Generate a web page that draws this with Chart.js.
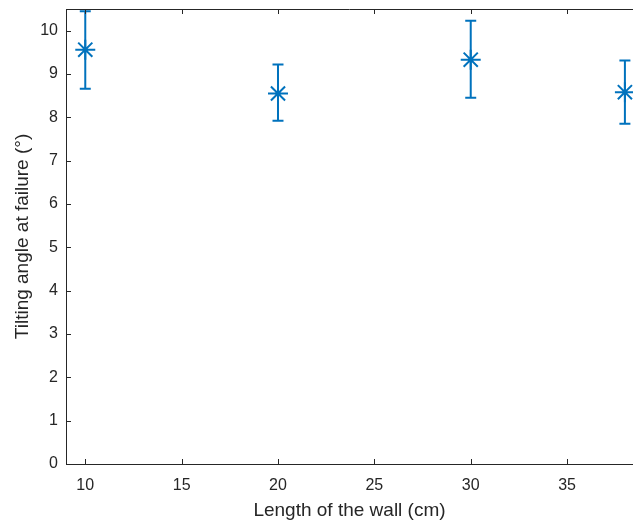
<!DOCTYPE html>
<html>
<head>
<meta charset="utf-8">
<script src="https://cdn.jsdelivr.net/npm/chart.js@4"></script>
<style>
  html, body { margin: 0; padding: 0; background: #fff; overflow: hidden; }
  #wrap { width: 633px; height: 522px; position: relative; }
</style>
</head>
<body>
<div id="wrap"><canvas id="c" width="633" height="522"></canvas></div>
<script>
// ---- data ----
const wallLengths = [10, 20, 30, 38];            // cm
const meanAngles  = [9.56, 8.55, 9.33, 8.58];    // degrees
const upperAngles = [10.45, 9.22, 10.23, 9.31];  // error bar tops
const lowerAngles = [8.66, 7.92, 8.45, 7.85];    // error bar bottoms
const xTickValues = [10, 15, 20, 25, 30, 35];
const yTickValues = [0, 1, 2, 3, 4, 5, 6, 7, 8, 9, 10];
const xTitle = 'Length of the wall (cm)';
const yTitle = 'Tilting angle at failure (°)';

const BLUE = '#0072BD';
const AXIS = '#262626';
const FONT = '"Liberation Sans", Arial, Helvetica, sans-serif';

const points = wallLengths.map((x, i) => ({ x: x, y: meanAngles[i] }));

const errorBarPlugin = {
  id: 'errorBars',
  beforeDatasetsDraw(chart) {
    const ctx = chart.ctx;
    const xs = chart.scales.x, ys = chart.scales.y;
    ctx.save();
    ctx.strokeStyle = BLUE;
    ctx.lineWidth = 2;
    ctx.lineCap = 'butt';
    const cap = 5.5;
    for (let i = 0; i < wallLengths.length; i++) {
      const px = xs.getPixelForValue(wallLengths[i]);
      const pt = ys.getPixelForValue(upperAngles[i]);
      const pb = ys.getPixelForValue(lowerAngles[i]);
      ctx.beginPath();
      ctx.moveTo(px, pt); ctx.lineTo(px, pb);
      ctx.moveTo(px - cap, pt); ctx.lineTo(px + cap, pt);
      ctx.moveTo(px - cap, pb); ctx.lineTo(px + cap, pb);
      ctx.stroke();
    }
    ctx.restore();
  }
};

const axesBoxPlugin = {
  id: 'axesBox',
  afterDraw(chart) {
    const ctx = chart.ctx;
    const a = chart.chartArea;
    const xs = chart.scales.x, ys = chart.scales.y;
    ctx.save();
    ctx.strokeStyle = AXIS;
    ctx.lineWidth = 1;
    const tl = 5;
    ctx.beginPath();
    // top border
    ctx.moveTo(a.left, a.top + 0.5); ctx.lineTo(a.right, a.top + 0.5);
    // inward x ticks (bottom & top)
    xTickValues.forEach(v => {
      const px = Math.round(xs.getPixelForValue(v)) + 0.5;
      ctx.moveTo(px, a.bottom); ctx.lineTo(px, a.bottom - tl);
      ctx.moveTo(px, a.top); ctx.lineTo(px, a.top + tl);
    });
    // inward y ticks
    yTickValues.forEach(v => {
      const py = Math.round(ys.getPixelForValue(v)) + 0.5;
      ctx.moveTo(a.left, py); ctx.lineTo(a.left + tl, py);
    });
    ctx.stroke();
    ctx.restore();
  }
};

new Chart(document.getElementById('c'), {
  type: 'scatter',
  data: {
    datasets: [{
      data: points,
      pointStyle: 'star',
      pointRadius: 10,
      pointHoverRadius: 10,
      borderColor: BLUE,
      backgroundColor: BLUE,
      borderWidth: 2,
      showLine: false,
      clip: false
    }]
  },
  options: {
    responsive: false,
    animation: false,
    events: [],
    layout: { autoPadding: false, padding: { top: 9, right: 0, left: 0, bottom: 0 } },
    plugins: {
      legend: { display: false },
      tooltip: { enabled: false }
    },
    scales: {
      x: {
        type: 'linear',
        min: 9,
        max: 38.42,
        afterBuildTicks: s => { s.ticks = xTickValues.map(v => ({ value: v })); },
        afterFit: s => { s.height = 58; s.paddingLeft = 0; s.paddingRight = 0; },
        grid: { display: false, drawTicks: false },
        border: { display: true, color: AXIS, width: 1 },
        ticks: {
          color: AXIS,
          padding: 12,
          maxRotation: 0,
          autoSkip: false,
          font: { family: FONT, size: 16 }
        },
        title: {
          display: true,
          text: xTitle,
          color: AXIS,
          font: { family: FONT, size: 19 },
          padding: { top: 0, bottom: 0 }
        }
      },
      y: {
        type: 'linear',
        min: 0,
        max: 10.5,
        afterBuildTicks: s => { s.ticks = yTickValues.map(v => ({ value: v })); },
        afterFit: s => { s.width = 66; s.paddingTop = 0; s.paddingBottom = 0; },
        grid: { display: false, drawTicks: false },
        border: { display: true, color: AXIS, width: 1 },
        ticks: {
          color: AXIS,
          padding: 8,
          autoSkip: false,
          font: { family: FONT, size: 16 }
        },
        title: {
          display: true,
          text: yTitle,
          color: AXIS,
          font: { family: FONT, size: 19 },
          padding: { top: 11, bottom: 0 }
        }
      }
    }
  },
  plugins: [errorBarPlugin, axesBoxPlugin]
});
</script>
</body>
</html>
